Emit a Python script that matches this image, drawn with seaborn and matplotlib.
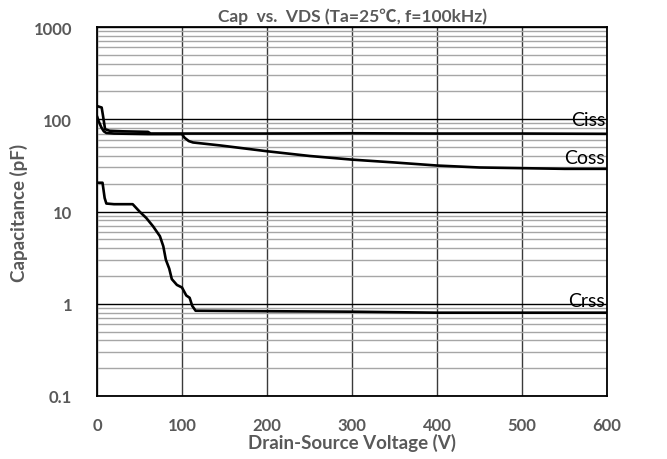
import numpy as np
import pandas as pd
import matplotlib
matplotlib.use("Agg")
import matplotlib.pyplot as plt
import seaborn as sns
from matplotlib.ticker import FixedLocator, LogLocator, NullFormatter

# Capacitance vs. drain-source voltage (Ta=25°C, f=100kHz)
ciss_v = [0, 5.5, 7, 9.5, 15, 30, 60, 63, 100, 200, 300, 400, 500, 600]
ciss_c = [139, 134, 110, 78, 75, 74, 73, 70, 70, 70, 70.5, 70, 70, 69.5]

coss_v = [0, 2, 5, 8, 11, 20, 60, 100, 103, 108, 113, 145, 200, 250, 300,
          350, 400, 450, 500, 550, 600]
coss_c = [108, 95, 82, 74, 71, 70, 69, 69, 63, 58, 56, 52, 45, 40, 36.5,
          34, 31.5, 30, 29.5, 29, 29]

crss_v = [0, 6.5, 9, 11, 20, 42, 50, 58, 66, 74, 78, 81, 85, 88, 94, 100,
          105, 109, 112, 116, 200, 300, 400, 500, 600]
crss_c = [20.5, 20.5, 14, 12.2, 12, 12, 10, 8.5, 6.9, 5.4, 4.2, 3.0, 2.4,
          1.85, 1.6, 1.5, 1.23, 1.16, 0.95, 0.84, 0.83, 0.82, 0.8, 0.8, 0.8]

x_ticks = [0, 100, 200, 300, 400, 500, 600]
y_ticks = [0.1, 1, 10, 100, 1000]
y_tick_labels = ["0.1", "1", "10", "100", "1000"]

series = {"Ciss": (ciss_v, ciss_c), "Coss": (coss_v, coss_c), "Crss": (crss_v, crss_c)}
frames = [pd.DataFrame({"V": v, "C": c, "name": k}) for k, (v, c) in series.items()]
df = pd.concat(frames, ignore_index=True)

sns.set_style("white")
plt.rcParams["font.family"] = ["Lato", "Noto Sans CJK SC", "DejaVu Sans"]

label_gray = "#595959"

fig = plt.figure(figsize=(6.67, 4.6), dpi=100)
ax = fig.add_axes([97 / 667, 1 - 397 / 460, 510 / 667, 369 / 460])

for name in series:
    sub = df[df["name"] == name]
    sns.lineplot(data=sub, x="V", y="C", ax=ax, color="black", linewidth=1.9,
                 estimator=None, sort=False, zorder=5)

ax.set_yscale("log")
ax.set_xlim(0, 600)
ax.set_ylim(0.1, 1000)

ax.xaxis.set_major_locator(FixedLocator(x_ticks))
ax.yaxis.set_major_locator(FixedLocator(y_ticks))
ax.yaxis.set_minor_locator(LogLocator(base=10, subs=np.arange(2, 10)))
ax.yaxis.set_minor_formatter(NullFormatter())
ax.set_xticklabels([str(t) for t in x_ticks])
ax.set_yticklabels(y_tick_labels)

ax.grid(True, which="minor", axis="y", color="#a6a6a6", linewidth=1.0, zorder=1)
ax.grid(True, which="major", axis="y", color="black", linewidth=1.0, zorder=2)
ax.grid(True, which="major", axis="x", color="#3a3a3a", linewidth=1.0, zorder=2)

ax.tick_params(axis="both", which="both", length=0)
ax.tick_params(axis="y", pad=18, labelsize=12, labelcolor=label_gray)
ax.tick_params(axis="x", pad=15, labelsize=12, labelcolor=label_gray)
for lab in ax.get_xticklabels() + ax.get_yticklabels():
    lab.set_fontweight("bold")

for sp in ax.spines.values():
    sp.set_visible(True)
    sp.set_color("black")
    sp.set_linewidth(1.3)

ax.set_xlabel("Drain-Source Voltage (V)", fontsize=13.5, fontweight="bold",
              color=label_gray, labelpad=0)
ax.set_ylabel("Capacitance (pF)", fontsize=13.5, fontweight="bold",
              color=label_gray, labelpad=4)
ax.set_title("Cap  vs.  VDS (Ta=25\u2103, f=100kHz)", fontsize=12.5,
             fontweight="bold", color=label_gray, pad=4)

# Curve names at the right end of each trace
label_pos = {"Ciss": 80, "Coss": 31.5, "Crss": 0.88}
for name, yv in label_pos.items():
    ax.text(598, yv, name, ha="right", va="bottom", fontsize=14,
            color="black", zorder=6)

fig.savefig("out.png", dpi=100)
